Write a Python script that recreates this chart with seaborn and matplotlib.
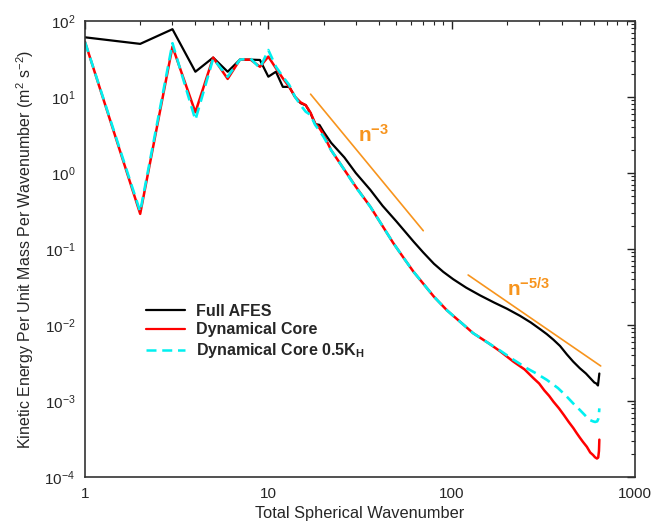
import matplotlib
matplotlib.use("Agg")
import matplotlib.pyplot as plt
import seaborn as sns
import numpy as np
import pandas as pd
from matplotlib.lines import Line2D

sns.set_theme(style="white")
plt.rcParams['font.family'] = ['Liberation Sans', 'DejaVu Sans']
plt.rcParams['mathtext.fontset'] = 'custom'
plt.rcParams['mathtext.rm'] = 'Liberation Sans'
plt.rcParams['mathtext.bf'] = 'Liberation Sans:bold'
plt.rcParams['mathtext.it'] = 'Liberation Sans:italic'

# ---------------- data ----------------
afes_n = [1, 2, 3, 4, 5, 6, 7, 8, 9, 10, 11, 12, 13, 14, 15, 16, 17, 18, 19, 20,
          22, 26, 30, 36, 42, 50, 62, 70, 80, 90, 102, 120, 143, 170, 200, 236,
          270, 304, 330, 359, 390, 425, 460, 500, 540, 570, 600, 615, 628, 639]
afes_e = [61, 50, 78, 21.5, 33, 21.5, 31, 31, 30.7, 18.5, 21.5, 13.6, 13.6, 10, 8.3, 7.8, 6.1, 4.4, 4.3, 3.5,
          2.5, 1.6, 1.0, 0.60, 0.37, 0.23, 0.125, 0.090, 0.064, 0.050, 0.040, 0.031, 0.0245, 0.0198, 0.0164, 0.0132,
          0.0108, 0.0088, 0.0076, 0.0064, 0.0053, 0.0041, 0.0033, 0.0027, 0.0023, 0.0020, 0.00175, 0.0017, 0.0016,
          0.0023]

core_n = [1, 2, 3, 4, 5, 6, 7, 8, 9, 10, 11, 12, 13, 14, 15, 16, 17, 18, 19, 20,
          22, 26, 30, 36, 42, 48, 55, 62, 70, 80, 94, 102, 120, 131, 143, 160, 184, 217, 250, 279,
          300, 320, 340, 359, 385, 410, 435, 461, 480, 500, 520, 546, 570, 590, 605, 620, 630, 636, 639]
core_e = [53, 0.29, 46, 6.3, 33, 17.3, 31, 31, 25, 34, 23.9, 17.6, 13.6, 10, 8.5, 7.8, 6.2, 4.5, 3.9, 3.2,
          2.0, 1.1, 0.66, 0.36, 0.20, 0.12, 0.075, 0.050, 0.035, 0.0236, 0.0157, 0.0132, 0.0094, 0.0078, 0.0068,
          0.0057, 0.0045, 0.0033, 0.0026, 0.0020, 0.0017, 0.00138, 0.00117, 0.00098, 0.0008, 0.00065, 0.00053,
          0.00044, 0.00038, 0.00033, 0.00029, 0.00025, 0.00021, 0.000195, 0.000182, 0.000175, 0.00018, 0.00022,
          0.00031]

half_n = [1, 2, 3, 4, 5, 6, 7, 8, 9, 10, 11, 12, 13, 14, 15, 16, 17, 18, 19, 20,
          22, 26, 30, 36, 42, 48, 55, 62, 70, 80, 94, 102, 120, 131, 143, 160, 184, 217, 257, 290, 330,
          380, 425, 460, 501, 540, 569, 590, 606, 622, 630, 635, 639]
half_e = [53, 0.31, 51, 5.0, 32, 18.5, 31, 32, 24, 41.5, 25, 18.5, 14.4, 10, 7.8, 6.4, 5.8, 4.3, 3.6, 3.0,
          2.0, 1.1, 0.65, 0.36, 0.20, 0.12, 0.075, 0.050, 0.035, 0.0236, 0.0157, 0.0132, 0.0094, 0.0078, 0.0068,
          0.0057, 0.0046, 0.0035, 0.0027, 0.0023, 0.0019, 0.00148, 0.00114, 0.00093, 0.00076, 0.00063, 0.00056,
          0.00054, 0.00053, 0.00054, 0.00058, 0.00065, 0.0008]

ref3_n = [17, 70]
ref3_e = [10.9, 0.174]
ref53_n = [123, 650]
ref53_e = [0.0455, 0.00289]

labels = ["Full AFES", "Dynamical Core", r"Dynamical Core 0.5K$_\mathbf{H}$"]
x_ticks = [1, 10, 100, 1000]
x_ticklabels = ["1", "10", "100", "1000"]
y_ticks = [1e-4, 1e-3, 1e-2, 1e-1, 1e0, 1e1, 1e2]

# ---------------- figure ----------------
fig = plt.figure(figsize=(6.7, 5.21), dpi=100)
ax = fig.add_axes([85/670, 1-477/521, (635-85)/670, (477-21)/521])

orange = "#F7941D"
cyan = "#00F0F0"
dash = (0, (4, 2.3))
sns.lineplot(x=ref3_n, y=ref3_e, ax=ax, color=orange, lw=1.2)
sns.lineplot(x=ref53_n, y=ref53_e, ax=ax, color=orange, lw=1.2)
sns.lineplot(x=afes_n, y=afes_e, ax=ax, color="black", lw=1.6)
sns.lineplot(x=core_n, y=core_e, ax=ax, color="#FF0000", lw=1.8)
sns.lineplot(x=half_n, y=half_e, ax=ax, color=cyan, lw=1.9, linestyle=dash)

ax.set_xscale("log")
ax.set_yscale("log")
ax.set_xlim(1, 1000)
ax.set_ylim(1e-4, 1e2)
ax.set_xticks(x_ticks)
ax.set_xticklabels(x_ticklabels)
ax.set_yticks(y_ticks)

ax.tick_params(which="both", direction="in", top=True, right=True, labelsize=11,
               color="#222222")
ax.tick_params(which="major", length=6, width=1.0, pad=7)
ax.tick_params(which="minor", length=3, width=0.8)
for s in ax.spines.values():
    s.set_color("#333333")
    s.set_linewidth(1.2)

ax.set_xlabel("Total Spherical Wavenumber", fontsize=11.8, labelpad=4)
ax.set_ylabel(r"Kinetic Energy Per Unit Mass Per Wavenumber (m$^2$ s$^{-2}$)", fontsize=11.5, labelpad=6)

ax.text(37.5, 3.16, r"$\mathbf{n^{-3}}$", color=orange, fontsize=15, ha="center", va="center")
ax.text(262, 0.0298, r"$\mathbf{n^{-5/3}}$", color=orange, fontsize=15, ha="center", va="center")

handles = [Line2D([], [], color="black", lw=1.6),
           Line2D([], [], color="#FF0000", lw=1.6),
           Line2D([], [], color=cyan, lw=1.8, linestyle=dash)]
leg = ax.legend(handles, labels, loc="upper left", bbox_to_anchor=(0.0855, 0.412),
                frameon=False, prop={"weight": "bold", "size": 11.5},
                handlelength=2.4, handletextpad=0.7, labelspacing=0.25)

fig.savefig("out.png", dpi=100)
